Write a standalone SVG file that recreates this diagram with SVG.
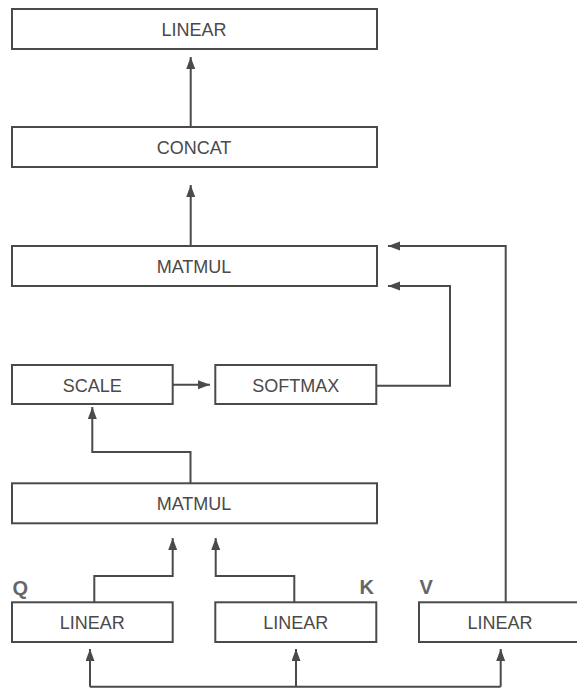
<svg xmlns="http://www.w3.org/2000/svg" width="577" height="688" viewBox="0 0 577 688">
  <style>
    .box { fill: #ffffff; stroke: #4a4a4a; stroke-width: 2; }
    .lbl { font-family: "Liberation Sans", Arial, sans-serif; font-size: 18px; fill: #4a4a4a; text-anchor: middle; }
    .tag { font-family: "Liberation Sans", Arial, sans-serif; font-size: 20px; font-weight: bold; fill: #666666; }
    .wire { fill: none; stroke: #4a4a4a; stroke-width: 2; }
  </style>
  <defs>
    <marker id="arrow" markerUnits="userSpaceOnUse" markerWidth="12" markerHeight="10" refX="12" refY="4.5" orient="auto">
      <path d="M0,0 L12,4.5 L0,9 z" fill="#4a4a4a"/>
    </marker>
  </defs>

  <rect width="577" height="688" fill="#ffffff"/>

  <g id="connectors">
    <path class="wire" d="M190.7,127 V57" marker-end="url(#arrow)"/>
    <path class="wire" d="M190.7,246 V185" marker-end="url(#arrow)"/>
    <path class="wire" d="M505.7,602 V246 H388" marker-end="url(#arrow)"/>
    <path class="wire" d="M376,385.7 H450 V286 H388" marker-end="url(#arrow)"/>
    <path class="wire" d="M172.7,384.7 H210" marker-end="url(#arrow)"/>
    <path class="wire" d="M190.5,483 V452 H92.3 V407" marker-end="url(#arrow)"/>
    <path class="wire" d="M94.3,602 V576 H172.7 V538" marker-end="url(#arrow)"/>
    <path class="wire" d="M294.3,602 V576 H215.7 V538" marker-end="url(#arrow)"/>
    <path class="wire" d="M90,686.7 H500.7"/>
    <path class="wire" d="M90,686.7 V649" marker-end="url(#arrow)"/>
    <path class="wire" d="M296,686.7 V649" marker-end="url(#arrow)"/>
    <path class="wire" d="M500.7,686.7 V649" marker-end="url(#arrow)"/>
  </g>

  <g id="linear-out">
    <rect class="box" x="12" y="9" width="365" height="40"/>
    <text class="lbl" x="194" y="36">LINEAR</text>
  </g>
  <g id="concat">
    <rect class="box" x="12" y="127" width="365" height="40"/>
    <text class="lbl" x="194" y="154">CONCAT</text>
  </g>
  <g id="matmul-top">
    <rect class="box" x="12" y="246" width="365" height="40"/>
    <text class="lbl" x="194" y="273">MATMUL</text>
  </g>
  <g id="scale">
    <rect class="box" x="12" y="365" width="160.7" height="39"/>
    <text class="lbl" x="92.3" y="391.5">SCALE</text>
  </g>
  <g id="softmax">
    <rect class="box" x="215.3" y="365" width="161" height="39"/>
    <text class="lbl" x="295.8" y="391.5">SOFTMAX</text>
  </g>
  <g id="matmul-bottom">
    <rect class="box" x="12" y="483.3" width="365" height="40"/>
    <text class="lbl" x="194" y="510">MATMUL</text>
  </g>
  <g id="linear-q">
    <rect class="box" x="12" y="602.3" width="160.7" height="39.7"/>
    <text class="lbl" x="92.3" y="629">LINEAR</text>
    <text class="tag" x="12.5" y="595">Q</text>
  </g>
  <g id="linear-k">
    <rect class="box" x="215.3" y="602.3" width="161" height="39.7"/>
    <text class="lbl" x="295.8" y="629">LINEAR</text>
    <text class="tag" x="374" y="594" text-anchor="end">K</text>
  </g>
  <g id="linear-v">
    <rect class="box" x="419" y="602.3" width="162" height="39.7"/>
    <text class="lbl" x="500" y="629">LINEAR</text>
    <text class="tag" x="419.5" y="594">V</text>
  </g>
</svg>
